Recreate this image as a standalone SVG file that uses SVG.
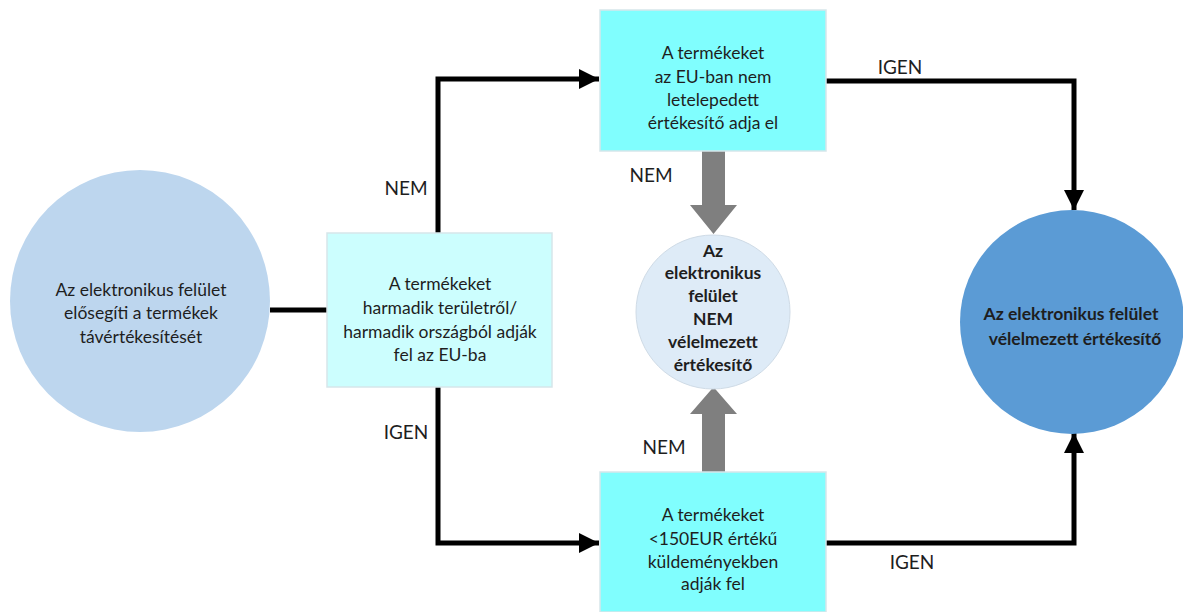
<svg xmlns="http://www.w3.org/2000/svg" width="1183" height="612" viewBox="0 0 1183 612">
  <defs>
    <style>
      text { font-family: Lato, "Noto Sans", "Liberation Sans", sans-serif; font-size: 17.5px; fill: #1e1e1e; text-anchor: middle; }
      .b { font-weight: bold; }
      .lbl { font-size: 19px; }
      .box { stroke: #d6e6ea; stroke-width: 1.5; }
      .wire { fill: none; stroke: #000; stroke-width: 5; stroke-linejoin: miter; }
      .gray { fill: #7f7f7f; }
    </style>
    <marker id="ah" viewBox="0 0 10 10" refX="10" refY="5" markerWidth="4" markerHeight="4" markerUnits="strokeWidth" orient="auto">
      <path d="M0,0 L10,5 L0,10 Z" fill="#000"/>
    </marker>
  </defs>
  <rect width="1183" height="612" fill="#fff"/>

  <!-- connectors -->
  <g id="connectors">
    <line class="wire" x1="270" y1="310" x2="328" y2="310"/>
    <polyline class="wire" points="438,233 438,79 599,79" marker-end="url(#ah)"/>
    <polyline class="wire" points="438,387 438,543 599,543" marker-end="url(#ah)"/>
    <polyline class="wire" points="826,81 1074,81 1074,210" marker-end="url(#ah)"/>
    <polyline class="wire" points="826,543 1074,543 1074,433" marker-end="url(#ah)"/>
    <path class="gray" d="M702,151 H725 V205 H737 L713.5,234 L690,205 H702 Z"/>
    <path class="gray" d="M702,472 H725 V414 H737 L713.5,387 L690,414 H702 Z"/>
    <text class="lbl" x="406" y="195">NEM</text>
    <text class="lbl" x="406" y="439">IGEN</text>
    <text class="lbl" x="651" y="182">NEM</text>
    <text class="lbl" x="664" y="454">NEM</text>
    <text class="lbl" x="900" y="74">IGEN</text>
    <text class="lbl" x="912" y="569">IGEN</text>
  </g>

  <g id="start">
    <ellipse cx="140" cy="301" rx="130" ry="131" fill="#bdd6ee"/>
    <text x="141" y="296">Az elektronikus felület</text>
    <text x="141" y="319">elősegíti a termékek</text>
    <text x="141" y="343">távértékesítését</text>
  </g>

  <g id="origin">
    <rect class="box" x="327" y="233" width="225" height="154" fill="#ccfefe"/>
    <text x="440" y="290">A termékeket</text>
    <text x="440" y="314">harmadik területről/</text>
    <text x="440" y="338">harmadik országból adják</text>
    <text x="440" y="361">fel az EU-ba</text>
  </g>

  <g id="seller">
    <rect class="box" x="600" y="10" width="226" height="141" fill="#80fefe"/>
    <text x="713" y="59">A termékeket</text>
    <text x="713" y="83">az EU-ban nem</text>
    <text x="713" y="106">letelepedett</text>
    <text x="713" y="129">értékesítő adja el</text>
  </g>

  <g id="consignment">
    <rect class="box" x="600" y="472" width="226" height="140" fill="#80fefe"/>
    <text x="713" y="521">A termékeket</text>
    <text x="713" y="545">&lt;150EUR értékű</text>
    <text x="713" y="568">küldeményekben</text>
    <text x="713" y="590">adják fel</text>
  </g>

  <g id="not-deemed">
    <circle cx="713" cy="312" r="77" fill="#deebf7" stroke="#cfdbe6" stroke-width="1"/>
    <text class="b" x="713" y="257">Az</text>
    <text class="b" x="713" y="279">elektronikus</text>
    <text class="b" x="713" y="302">felület</text>
    <text class="b" x="713" y="325">NEM</text>
    <text class="b" x="713" y="348">vélelmezett</text>
    <text class="b" x="713" y="371">értékesítő</text>
  </g>

  <g id="deemed">
    <circle cx="1072" cy="322" r="112" fill="#5b9bd5"/>
    <text class="b" x="1071" y="320">Az elektronikus felület</text>
    <text class="b" x="1075" y="345">vélelmezett értékesítő</text>
  </g>
</svg>
